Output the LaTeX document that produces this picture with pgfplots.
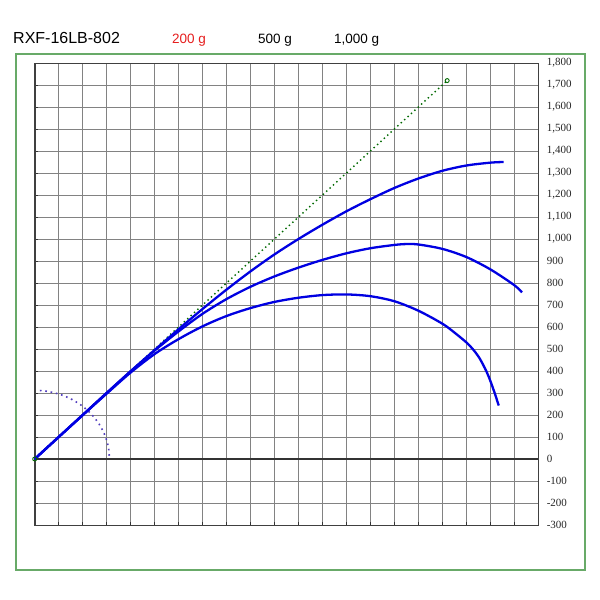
\documentclass[border=0pt]{standalone}
\usepackage{fontspec}
\setmainfont{Liberation Sans}
\newfontfamily\serifnum{Liberation Serif}
\usepackage{pgfplots}
\pgfplotsset{compat=1.18}
\definecolor{frameg}{RGB}{104,170,104}
\definecolor{curveb}{RGB}{0,0,225}
\definecolor{dotg}{RGB}{0,105,0}
\definecolor{dotp}{RGB}{80,60,190}
\definecolor{gridc}{RGB}{130,130,130}
\definecolor{titred}{RGB}{230,30,30}
\begin{document}
\begin{tikzpicture}[x=1pt,y=1pt]
\useasboundingbox (0,0) rectangle (600,600);
\fill[white] (0,0) rectangle (600,600);
\draw[frameg, line width=1.5pt] (16,546) rectangle (585,30);
\node[anchor=base west, inner sep=0pt, font=\fontsize{16}{19}\selectfont] at (13,556) {RXF-16LB-802};
\node[anchor=base west, inner sep=0pt, font=\fontsize{13.5}{16}\selectfont, text=titred] at (172,556) {200 g};
\node[anchor=base west, inner sep=0pt, font=\fontsize{13.5}{16}\selectfont] at (258,556) {500 g};
\node[anchor=base west, inner sep=0pt, font=\fontsize{13.5}{16}\selectfont] at (334,556) {1,000 g};
\begin{axis}[
  at={(34.7pt,75pt)}, anchor=south west,
  scale only axis, width=503.6pt, height=462pt,
  xmin=0, xmax=2100, ymin=-300, ymax=1800,
  xtick={0,100,...,2100}, ytick={-300,-200,...,1800},
  xticklabels={}, 
  grid=major,
  major grid style={gridc, line width=0.9pt},
  axis line style={black!75, line width=0.9pt},
  xtick pos=bottom, ytick pos=left,
  major tick length=3pt,
  tick style={black!80, line width=0.8pt},
  yticklabel pos=right,
  /pgf/number format/assume math mode=true,
  /pgf/number format/fixed,
  /pgf/number format/1000 sep={,},
  yticklabel style={font=\fontsize{11}{13}\serifnum, anchor=west, xshift=5pt, text=black!85},
  clip=false,
]
\addplot[black!80, line width=1.1pt, forget plot] coordinates {(0,0) (2100,0)};
\addplot[black!75, line width=1.6pt, forget plot] coordinates {(0,-300) (0,1800)};
% quarter circle
\addplot[dotp, line width=1.6pt, dash pattern=on 1.6pt off 3.8pt, smooth] coordinates {
(21.8,311.2) (54.2,307.3) (106.7,293.2) (156,270.2) (200.5,239.0) (239.0,200.5) (270.2,156) (293.2,106.7) (307.3,54.2) (312,0)};
% reference line
\addplot[dotg, line width=1.4pt, dash pattern=on 1.4pt off 3.2pt, mark=o, mark size=2pt, mark options={solid, line width=0.9pt}] coordinates {(0,0) (1720,1720)};
% top curve
\addplot[curveb, line width=2.3pt, smooth] coordinates {
(0,0) (100,100) (200,200) (300,300) (400,398) (500,495) (600,590) (700,682) (800,770) (900,853) (1000,930) (1100,1000) (1200,1065) (1300,1126) (1400,1181) (1500,1232) (1600,1275) (1700,1310) (1800,1334) (1900,1347) (1955,1350)};
% middle curve
\addplot[curveb, line width=2.3pt, smooth] coordinates {
(0,0) (100,100) (200,200) (300,300) (400,399) (500,493) (600,580) (700,660) (800,727) (900,783) (1000,830) (1100,870) (1200,905) (1300,935) (1400,958) (1500,973) (1550,977) (1600,975) (1700,955) (1800,918) (1900,862) (2000,790) (2032,757)};
% bottom curve
\addplot[curveb, line width=2.3pt, smooth] coordinates {
(0,0) (100,100) (200,199) (300,297) (400,393) (500,477) (600,545) (700,603) (800,650) (900,686) (1000,714) (1100,733) (1200,745) (1300,748) (1400,740) (1500,717) (1600,674) (1700,615) (1750,575) (1800,530) (1828,498) (1855,458) (1883,400) (1900,355) (1918,300) (1935,243)};
\end{axis}
\end{tikzpicture}
\end{document}
